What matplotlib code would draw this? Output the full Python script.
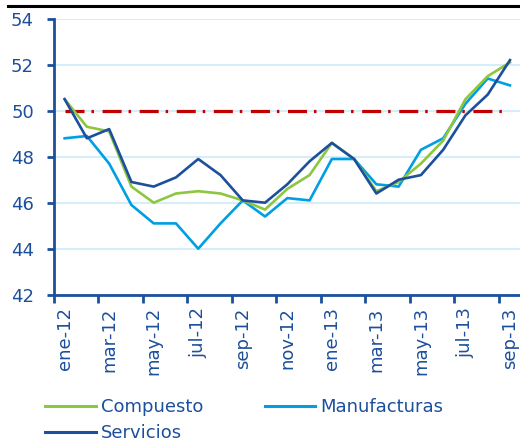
import matplotlib
matplotlib.use('Agg')
import matplotlib.pyplot as plt
import numpy as np
from matplotlib.lines import Line2D

# monthly PMI readings, ene-12 .. sep-13
months = ['ene-12', 'feb-12', 'mar-12', 'abr-12', 'may-12', 'jun-12', 'jul-12',
          'ago-12', 'sep-12', 'oct-12', 'nov-12', 'dic-12', 'ene-13', 'feb-13',
          'mar-13', 'abr-13', 'may-13', 'jun-13', 'jul-13', 'ago-13', 'sep-13']
compuesto = [50.5, 49.3, 49.1, 46.7, 46.0, 46.4, 46.5, 46.4, 46.1, 45.7, 46.6,
             47.2, 48.6, 47.9, 46.5, 46.9, 47.7, 48.7, 50.5, 51.5, 52.1]
manufacturas = [48.8, 48.9, 47.7, 45.9, 45.1, 45.1, 44.0, 45.1, 46.1, 45.4, 46.2,
                46.1, 47.9, 47.9, 46.8, 46.7, 48.3, 48.8, 50.3, 51.4, 51.1]
servicios = [50.5, 48.8, 49.2, 46.9, 46.7, 47.1, 47.9, 47.2, 46.1, 46.0, 46.8,
             47.8, 48.6, 47.9, 46.4, 47.0, 47.2, 48.3, 49.8, 50.7, 52.2]
umbral = 50

dark = '#1c4f9c'
light = '#009fe3'
green = '#8dc63f'
red = '#c00000'
grid_c = '#d6eef9'

plt.rcParams['lines.scale_dashes'] = False

fig = plt.figure(figsize=(5.2, 4.43), dpi=100)
ax = fig.add_axes([53.5 / 520, 148.3 / 443, (520 - 53.5) / 520, (424.3 - 148.3) / 443])

x = np.arange(len(months))
ax.plot(x, [umbral] * len(x), color=red, lw=2.3, linestyle=(0, (13.7, 5.0, 1.8, 6.2)),
        zorder=2)
ax.plot(x, manufacturas, color=light, lw=1.9, zorder=3)
ax.plot(x, compuesto, color=green, lw=1.9, zorder=4)
ax.plot(x, servicios, color=dark, lw=1.9, zorder=5)

ax.set_ylim(42, 54)
ax.set_xlim(-0.5, 20.45)
ax.set_yticks(np.arange(42, 55, 2))
ax.yaxis.grid(True, color=grid_c, lw=1.5)
ax.set_axisbelow(True)

ax.set_xticks(np.arange(-0.5, 21, 2))
ax.set_xticklabels([])
ax.set_xticks(x[::2], minor=True)
ax.set_xticklabels(months[::2], minor=True, rotation=90)
ax.tick_params(axis='x', which='minor', length=0, pad=9, labelsize=13, labelcolor=dark)
ax.tick_params(axis='x', which='major', length=6, width=2, color=dark, direction='out')
ax.tick_params(axis='y', length=5, width=2, color=dark, labelsize=13, labelcolor=dark, pad=9)

for s in ['top', 'right']:
    ax.spines[s].set_visible(False)
for s in ['left', 'bottom']:
    ax.spines[s].set_color(dark)
    ax.spines[s].set_linewidth(2)

# black rule at the top of the figure
fig.add_artist(Line2D([8 / 520, 1.0], [1 - 6 / 443, 1 - 6 / 443], color='black', lw=2.2))

handles = [Line2D([], [], color=green, lw=2.2), Line2D([], [], color=dark, lw=2.2),
           Line2D([], [], color=light, lw=2.2)]
labels = ['Compuesto', 'Servicios', 'Manufacturas']
leg = fig.legend(handles, labels, ncol=2, loc='upper left',
                 bbox_to_anchor=(45 / 520, 1 - 398 / 443), frameon=False,
                 fontsize=13, handlelength=2.8, handletextpad=0.3,
                 labelspacing=0.45, columnspacing=3.4, borderpad=0, borderaxespad=0)
for t in leg.get_texts():
    t.set_color(dark)

plt.savefig('out.png', dpi=100)
